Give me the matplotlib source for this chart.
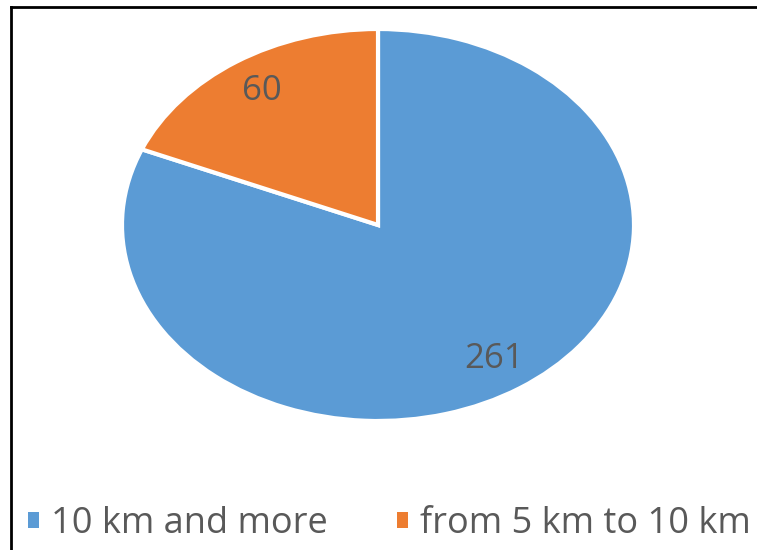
import matplotlib.pyplot as plt
from matplotlib.lines import Line2D

# data
labels = ['10 km and more', 'from 5 km to 10 km']
values = [261, 60]
colors = ['#5B9BD5', '#ED7D31']

plt.rcParams['font.family'] = ['Open Sans', 'DejaVu Sans']

W, H = 757, 550
fig = plt.figure(figsize=(W / 100, H / 100), dpi=100)
fig.patch.set_facecolor('white')

# pie axes (elliptical pie, stretched horizontally)
ax = fig.add_axes([122 / W, (H - 421) / H, 512 / W, 392 / H])
wedges, texts, autotexts = ax.pie(
    values, colors=colors, startangle=90, counterclock=False,
    wedgeprops=dict(edgecolor='white', linewidth=3),
    autopct=lambda p: '%d' % round(p * sum(values) / 100),
    pctdistance=0.82, textprops=dict(color='#595959', fontsize=25))
ax.set_aspect('auto')
ax.set_xlim(-1, 1)
ax.set_ylim(-1, 1)
ax.axis('off')

# frame lines (top and left)
fig.add_artist(Line2D([11 / W, 1], [1 - 7 / H, 1 - 7 / H], color='black', lw=2))
fig.add_artist(Line2D([11 / W, 11 / W], [0, 1 - 7 / H], color='black', lw=2))

leg = fig.legend(wedges, labels, loc='center left', bbox_to_anchor=(28 / W, 1 - 524 / H),
                 ncol=2, frameon=False, fontsize=26, handlelength=0.3, handleheight=0.3,
                 handletextpad=0.35, columnspacing=1.9, borderaxespad=0, borderpad=0)
for t in leg.get_texts():
    t.set_color('#595959')
for h in leg.legend_handles:
    h.set_edgecolor('none')

fig.savefig('out.png', dpi=100, facecolor='white')
